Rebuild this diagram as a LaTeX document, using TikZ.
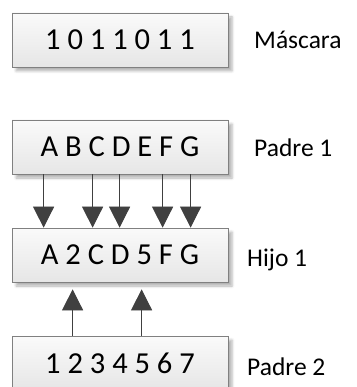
\documentclass[tikz,border=0pt]{standalone}
\usepackage{fontspec}
\setmainfont{Carlito}
\usetikzlibrary{arrows.meta,shadows.blur}
\definecolor{boxline}{HTML}{808080}
\definecolor{boxtop}{HTML}{FAFAFA}
\definecolor{boxbot}{HTML}{E6E6E6}
\definecolor{linkc}{HTML}{404040}
\definecolor{ghost}{HTML}{D4D4D4}
\begin{document}
\begin{tikzpicture}[x=1pt,y=-1pt,
  gene/.style={draw=boxline, line width=0.8pt, top color=boxtop, bottom color=boxbot,
    minimum width=216pt, minimum height=54pt, inner sep=0pt,
    font=\fontsize{30.5}{31}\selectfont,
    blur shadow={shadow xshift=4pt, shadow yshift=-4pt, shadow blur radius=2.5pt, shadow opacity=30}},
  tag/.style={anchor=base west, inner sep=0pt, font=\fontsize{25.5}{26}\selectfont},
  link/.style={draw=linkc, line width=1pt, -{Triangle[length=21pt,width=21pt]}},
  ghostlink/.style={draw=ghost, line width=1pt, -{Triangle[length=21pt,width=21pt]}}]
  \useasboundingbox (0,0) rectangle (356,387);

  % chromosome boxes
  \node[gene] (m)  at (120,40)  {1 0 1 1 0 1 1};
  \node[gene] (p1) at (120,147) {A B C D E F G};
  \node[gene] (h1) at (120,255) {A 2 C D 5 F G};
  \node[gene] (p2) at (120,363) {1 2 3 4 5 6 7};

  % side labels
  \node[tag] (lm)  at (254,49)  {Máscara};
  \node[tag] (lp1) at (254,157) {Padre 1};
  \node[tag] (lh1) at (247,266) {Hijo 1};
  \node[tag] (lp2) at (247,375) {Padre 2};

  % soft shadows of the gene transfers
  \begin{scope}[shift={(5,5)}]
    \foreach \dx in {32,81,108,151,179}
      \draw[ghostlink] ([xshift=\dx pt]p1.south west) -- ([xshift=\dx pt]h1.north west);
    \foreach \dx in {61,130}
      \draw[ghostlink] ([xshift=\dx pt]p2.north west) -- ([xshift=\dx pt,yshift=-7pt]h1.south west);
  \end{scope}

  % genes taken from Padre 1 (mask bit 1)
  \foreach \dx in {32,81,108,151,179}
    \draw[link] ([xshift=\dx pt]p1.south west) -- ([xshift=\dx pt]h1.north west);
  % genes taken from Padre 2 (mask bit 0)
  \foreach \dx in {61,130}
    \draw[link] ([xshift=\dx pt]p2.north west) -- ([xshift=\dx pt,yshift=-7pt]h1.south west);
\end{tikzpicture}
\end{document}
